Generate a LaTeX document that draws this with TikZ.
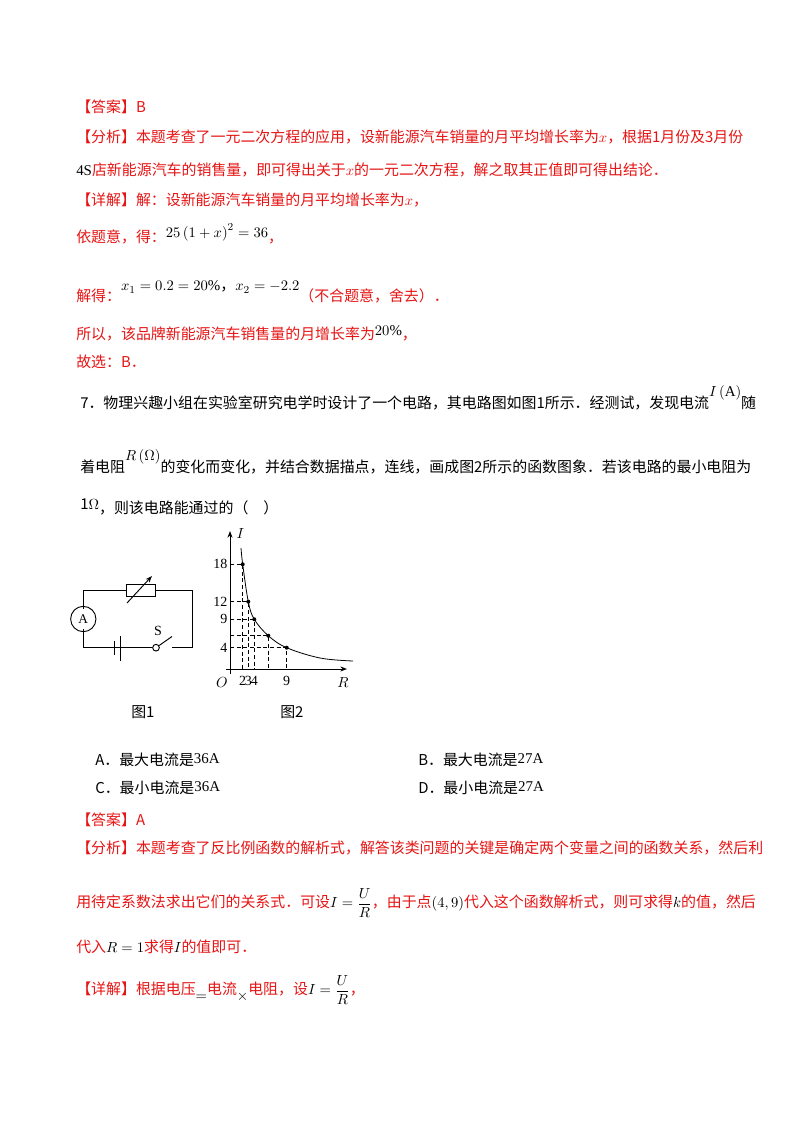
\documentclass[tikz,border=0pt]{standalone}
\usepackage{amsmath}
\usepackage{fontspec}
\setmainfont{Liberation Serif}
\newfontfamily\cjk{Noto Sans CJK SC}
\usetikzlibrary{arrows.meta}
\definecolor{rd}{RGB}{230,20,20}
\begin{document}
\begin{tikzpicture}[x=0.75pt,y=-0.75pt,
  txt/.style={anchor=west,inner sep=0pt,font=\cjk\fontsize{11.2}{13}\selectfont},
  rtxt/.style={txt,text=rd},
  dsh/.style={dashed,dash pattern=on 3pt off 2pt,line width=0.5pt},
  wire/.style={line width=0.7pt},
  lbl/.style={font=\fontsize{10.5}{12}\selectfont,inner sep=1pt}]
\useasboundingbox (0,0) rectangle (800,1132);
\node[rtxt] (l1) at (76,107) {【答案】B};
\node[rtxt] (l2) at (76,137) {【分析】本题考查了一元二次方程的应用，设新能源汽车销量的月平均增长率为$x$，根据1月份及3月份};
\node[rtxt] (l3) at (76,170) {{\color{black}\rmfamily 4S}店新能源汽车的销售量，即可得出关于$x$的一元二次方程，解之取其正值即可得出结论．};
\node[rtxt] (l4) at (76,200) {【详解】解：设新能源汽车销量的月平均增长率为$x$，};
\node[rtxt] (l5) at (76,234) {依题意，得：\raisebox{4pt}{\color{black}$25\left(1+x\right)^2=36$}，};
\node[rtxt] (l6) at (76,292) {解得：\raisebox{8pt}{\color{black}$x_1=0.2=20\%$，$x_2=-2.2$}（不合题意，舍去）．};
\node[rtxt] (l7) at (76,333) {所以，该品牌新能源汽车销售量的月增长率为\raisebox{3pt}{\color{black}$20\%$}，};
\node[rtxt] (l8) at (76,362) {故选：B．};
\node[txt] (p1) at (80,398) {7．物理兴趣小组在实验室研究电学时设计了一个电路，其电路图如图1所示．经测试，发现电流\raisebox{9pt}{$I\left(\mathrm{A}\right)$}随};
\node[txt] (p2) at (80,462) {着电阻\raisebox{9pt}{$R\left(\Omega\right)$}的变化而变化，并结合数据描点，连线，画成图2所示的函数图象．若该电路的最小电阻为};
\node[txt] (p3) at (80,507) {\raisebox{3pt}{1$\Omega$}，则该电路能通过的（\quad ）};
% circuit
\draw[wire] (120,647.7) -- (83.3,647.7) -- (83.3,629) (83.3,609) -- (83.3,590.7) -- (126.7,590.7) (155.7,590.7) -- (192.7,590.7) -- (192.7,647.7) -- (171.7,647.7);
\node[draw,circle,minimum size=19pt,inner sep=0pt,wire] (am) at (83.3,619) {A};
\node[draw,rectangle,minimum width=21.75pt,minimum height=9pt,inner sep=0pt,wire] (res) at (141.2,590.7) {};
\draw[wire,-{Stealth[length=5pt]}] (127,603) -- (152,576);
\draw[wire] (114.3,641) -- (114.3,655) (120,636) -- (120,661);
\draw[wire] (114.3,647.7) -- (120,647.7);
\node[draw,circle,minimum size=5pt,inner sep=0pt,wire,fill=white] (sw) at (156,647.7) {};
\draw[wire] (sw) -- (172,636.5);
\draw[wire] (120,647.7) -- (sw.west);
\node[lbl] (s) at (158,631) {S};
\node[txt] (f1) at (131,712) {图1};
\node[txt] (f2) at (280,712) {图2};
% graph
\draw[wire,-{Stealth[length=5pt]}] (230,674) -- (230,531);
\draw[wire,-{Stealth[length=5pt]}] (226,669) -- (347,669);
\node[lbl,anchor=west] (I) at (235,534) {$I$};
\node[lbl] (R) at (343,683) {$R$};
\node[lbl] (O) at (222,683) {$O$};
\foreach \y/\t in {564.3/18,601.7/12,619.3/9,647.7/4} \node[lbl,anchor=east] at (229,\y) {\t};
\foreach \x/\t in {242.7/2,248.3/3,254.3/4,286.7/9} \node[lbl] at (\x,681) {\t};
\foreach \x/\y in {242.7/564.3,248.3/601.7,254.3/619.3,268.3/635.7,286.7/647.7}{
  \draw[dsh] (230,\y) -- (\x,\y) -- (\x,669);
  \fill (\x,\y) circle (1.5pt);}
\draw[line width=0.6pt] plot[smooth,tension=0.6] coordinates {(241,548) (242.7,564.3) (248.3,601.7) (254.3,619.3) (268.3,635.7) (286.7,647.7) (320,658) (353,661)};
% options
\node[txt] (a) at (95,760) {A．最大电流是\raisebox{2pt}{\rmfamily 36A}};
\node[txt] (b) at (418,760) {B．最大电流是\raisebox{2pt}{\rmfamily 27A}};
\node[txt] (c) at (95,788) {C．最小电流是\raisebox{2pt}{\rmfamily 36A}};
\node[txt] (d) at (418,788) {D．最小电流是\raisebox{2pt}{\rmfamily 27A}};
\node[rtxt] (m1) at (76,820) {【答案】A};
\node[rtxt] (m2) at (76,848) {【分析】本题考查了反比例函数的解析式，解答该类问题的关键是确定两个变量之间的函数关系，然后利};
\node[rtxt] (m3) at (76,903) {用待定系数法求出它们的关系式．可设{\color{black}$I=\dfrac{U}{R}$}，由于点{\color{black}$\left(4,9\right)$}代入这个函数解析式，则可求得{\color{black}$k$}的值，然后};
\node[rtxt] (m4) at (76,947) {代入{\color{black}$R=1$}求得{\color{black}$I$}的值即可．};
\node[rtxt] (m5) at (76,990) {【详解】根据电压\raisebox{-4pt}{\color{black}$=$}电流\raisebox{-4pt}{\color{black}$\times$}电阻，设{\color{black}$I=\dfrac{U}{R}$}，};
\end{tikzpicture}
\end{document}
